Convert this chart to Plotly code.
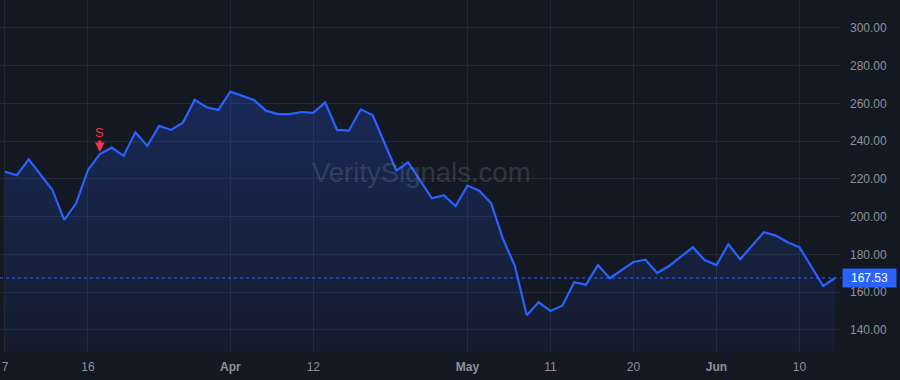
import plotly.graph_objects as go

# ---- data ----
prices = [223.9, 222.0, 230.4, 222.6, 214.2, 198.3, 207.1, 224.8, 233.2, 236.6,
          232.2, 244.7, 237.5, 248.1, 246.0, 249.8, 261.9, 258.0, 256.6, 266.3,
          264.1, 261.9, 256.2, 254.4, 254.4, 255.5, 255.0, 260.6, 246.0, 245.6,
          256.9, 253.9, 239.2, 224.4, 228.8, 219.5, 209.8, 211.4, 205.7, 216.5,
          213.8, 207.1, 188.2, 173.9, 147.8, 154.7, 150.1, 152.9, 165.3, 164.0,
          174.4, 167.4, 171.8, 176.0, 177.3, 170.2, 173.9, 178.9, 183.8, 177.1,
          174.4, 185.4, 177.5, 184.7, 191.8, 190.0, 186.5, 183.8, 173.6, 163.3,
          167.53]
bar_index = list(range(len(prices)))
tick_positions = [0, 7, 19, 26, 39, 46, 53, 60, 67]
tick_labels = ["7", "16", "<b>Apr</b>", "12", "<b>May</b>", "11", "20", "<b>Jun</b>", "10"]
y_ticks = [140, 160, 180, 200, 220, 240, 260, 280, 300]
signal_index = 8
signal_label = "S"
last_price = prices[-1]
watermark = "VeritySignals.com"

BG = "#141823"
GRID = "#242835"
BLUE = "#2962ff"
RED = "#f23645"
TXT = "#8f929b"
Y_MIN, Y_MAX = 128.34, 314.83

fig = go.Figure()
# baseline for the gradient fill
fig.add_trace(go.Scatter(x=bar_index, y=[Y_MIN] * len(prices), mode="lines",
                         line=dict(width=0), hoverinfo="skip", showlegend=False))
fig.add_trace(go.Scatter(
    x=bar_index, y=prices, mode="lines",
    line=dict(color=BLUE, width=2.2),
    fill="tonexty",
    fillgradient=dict(type="vertical",
                      colorscale=[[0, "rgba(41,98,255,0.05)"], [1, "rgba(41,98,255,0.24)"]]),
    showlegend=False, hoverinfo="skip"))

# last price dotted line
fig.add_shape(type="line", xref="paper", x0=0, x1=1, yref="y", y0=last_price, y1=last_price,
              line=dict(color=BLUE, width=1, dash="3px,3px"), layer="above")

# signal marker: arrow then label
fig.add_annotation(x=signal_index, y=prices[signal_index], xref="x", yref="y",
                   text="", showarrow=True, arrowhead=2, arrowsize=0.6,
                   arrowwidth=3.2, arrowcolor=RED, ax=0, ay=-15, standoff=2)
fig.add_annotation(x=signal_index, y=prices[signal_index], xref="x", yref="y",
                   text=signal_label, showarrow=False, yshift=22,
                   font=dict(color=RED, size=13, family="Liberation Sans, Arial"))

# last price label
fig.add_annotation(xref="paper", x=1.0, xanchor="left", yref="y", y=last_price,
                   text=f"{last_price:.2f}", showarrow=False,
                   bgcolor=BLUE, font=dict(color="white", size=12, family="Liberation Sans, Arial"),
                   borderpad=2, xshift=1, width=49, align="center")

# watermark
fig.add_annotation(xref="paper", yref="paper", x=421 / 841, y=1 - 172 / 352,
                   text=watermark, showarrow=False,
                   font=dict(color="rgba(150,155,170,0.24)", size=27.5, family="Liberation Sans, Arial"))

fig.update_layout(
    width=900, height=380,
    margin=dict(l=0, r=59, t=0, b=28),
    paper_bgcolor=BG, plot_bgcolor=BG,
    font=dict(family="Liberation Sans, Arial", size=12, color=TXT),
    xaxis=dict(range=[-0.42, 70.5], tickvals=tick_positions, ticktext=tick_labels,
               showgrid=True, gridcolor=GRID, gridwidth=1, zeroline=False,
               showline=False, ticks="", ticklabelstandoff=6,
               tickfont=dict(color=TXT, size=12)),
    yaxis=dict(range=[Y_MIN, Y_MAX], side="right", tickvals=y_ticks,
               ticktext=[f"{v:.2f}" for v in y_ticks],
               showgrid=True, gridcolor=GRID, gridwidth=1, zeroline=False,
               showline=False, ticks="", ticklabelstandoff=8,
               tickfont=dict(color=TXT, size=12)),
)

fig.write_html("out.html")
